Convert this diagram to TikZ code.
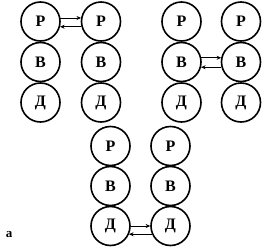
\documentclass[tikz,border=0pt]{standalone}
\usepackage{fontspec}
\setmainfont{Liberation Serif}
\usetikzlibrary{arrows.meta}
\begin{document}
\begin{tikzpicture}[x=1pt,y=-1pt,
  ball/.style={circle,draw,line width=1.6pt,minimum size=39pt,inner sep=0pt,font=\bfseries\fontsize{16}{16}\selectfont},
  link/.style={line width=0.7pt,-{Stealth[length=4.5pt,width=4pt]}}]
\useasboundingbox (0,0) rectangle (263,247);
% group 1
\node[ball] (p1) at (40.5,21.5) {Р};
\node[ball] (b1) at (40.5,62) {В};
\node[ball] (d1) at (40.5,102.5) {Д};
\node[ball] (p2) at (101,21.5) {Р};
\node[ball] (b2) at (101,62) {В};
\node[ball] (d2) at (101,102.5) {Д};
% group 2
\node[ball] (p3) at (181.5,21.5) {Р};
\node[ball] (b3) at (181.5,62) {В};
\node[ball] (d3) at (181.5,102.5) {Д};
\node[ball] (p4) at (241,21.5) {Р};
\node[ball] (b4) at (241,62) {В};
\node[ball] (d4) at (241,102.5) {Д};
% group 3
\node[ball] (p5) at (110.5,146) {Р};
\node[ball] (b5) at (110.5,186) {В};
\node[ball] (d5) at (110.5,226) {Д};
\node[ball] (p6) at (170.5,146) {Р};
\node[ball] (b6) at (170.5,186) {В};
\node[ball] (d6) at (170.5,226) {Д};
% arrows
\draw[link] (p1.10) -- (p2.170);
\draw[link] (p2.195) -- (p1.345);
\draw[link] (b3.12) -- (b4.168);
\draw[link] (b4.195) -- (b3.345);
\draw[link] (d5.0) -- (d6.180);
\draw[link] (d6.204) -- (d5.336);
\node[font=\bfseries\fontsize{13}{13}\selectfont] (lbl) at (9,235) {а};
\end{tikzpicture}
\end{document}
